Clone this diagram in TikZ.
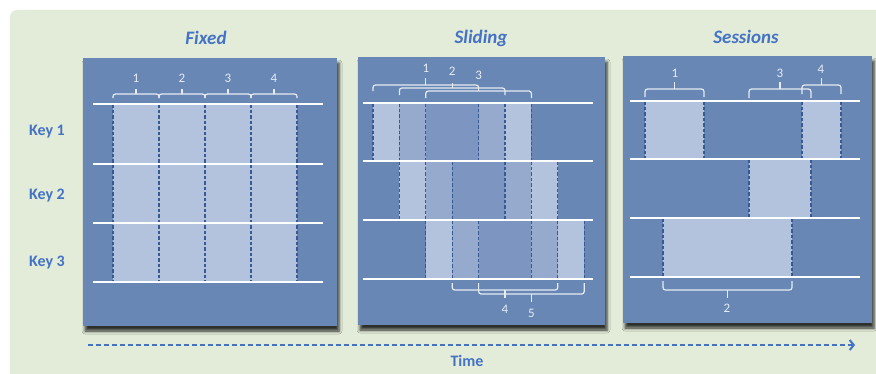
\documentclass[tikz,border=0pt]{standalone}
\usepackage{fontspec}
\setmainfont{Carlito}
\usetikzlibrary{shadows.blur,arrows.meta}

\definecolor{bgreen}{HTML}{E3ECD9}
\definecolor{panel}{HTML}{6887B5}
\definecolor{winA}{HTML}{B3C2DD}
\definecolor{winB}{HTML}{96AACD}
\definecolor{winC}{HTML}{7D96C1}
\definecolor{edgeblue}{HTML}{385A93}
\definecolor{ttl}{HTML}{4472C4}
\definecolor{numc}{HTML}{E6ECF5}

\tikzset{
  panelbox/.style={fill=panel, blur shadow={shadow xshift=2pt, shadow yshift=-5pt,
      shadow blur radius=3pt, shadow opacity=80}},
  keyline/.style={white, line width=1.6pt},
  winedge/.style={edgeblue, line width=1.2pt, dash pattern=on 3.5pt off 2pt},
  brc/.style={numc, line width=1.2pt, rounded corners=2.5pt},
  num/.style={text=numc, font=\fontsize{13}{13}\selectfont, inner sep=1pt},
  wtitle/.style={text=ttl, font=\fontsize{19}{19}\selectfont\bfseries\itshape},
  keylbl/.style={text=ttl, font=\fontsize{16}{16}\selectfont\bfseries},
}

% square brace: x from #1 to #2, ends at #3, bar at #4, tick to #5
\newcommand\wbrace[5]{%
  \draw[brc] (#1,#3) -- (#1,#4) -- (#2,#4) -- (#2,#3);
  \draw[brc] ({(#1+#2)/2},#4) -- ({(#1+#2)/2},#5);}

\begin{document}
\begin{tikzpicture}[x=1pt,y=-1pt,>=latex]

\useasboundingbox (0,0) rectangle (876,373);
\fill[white] (0,0) rectangle (876,373);
\fill[bgreen, draw=black!10, rounded corners=8pt] (10,10) rectangle (900,400);

\node[keylbl] (key1) at (47,132) {Key 1};
\node[keylbl] (key2) at (47,196) {Key 2};
\node[keylbl] (key3) at (47,263) {Key 3};

% fixed windows
\node[wtitle] (fixed) at (206,38) {Fixed};
\fill[panelbox] (83,58) rectangle (337,326);
\fill[winA] (113,104) rectangle (297,282);
\foreach \x in {113,159,205,251,297}
  \draw[winedge] (\x,104) -- (\x,282);
\foreach \y in {104,164,223,282}
  \draw[keyline] (93,\y) -- (323,\y);
\foreach \a/\b/\n in {113/159/1,159/205/2,205/251/3,251/297/4}{
  \wbrace{\a}{\b}{98}{94}{89}
  \node[num] (f\n) at ({(\a+\b)/2},78) {\n};
}

% sliding windows, step 26.4
\node[wtitle] (sliding) at (481,38) {Sliding};
\fill[panelbox] (358,57) rectangle (605,325);
\foreach \r/\ya/\yb in {0/103/161,1/161/220,2/220/279}{
  \fill[winA] ({373+26.4*\r},\ya) rectangle ({373+26.4*(\r+1)},\yb);
  \fill[winB] ({373+26.4*(\r+1)},\ya) rectangle ({373+26.4*(\r+2)},\yb);
  \fill[winC] ({373+26.4*(\r+2)},\ya) rectangle ({373+26.4*(\r+4)},\yb);
  \fill[winB] ({373+26.4*(\r+4)},\ya) rectangle ({373+26.4*(\r+5)},\yb);
  \fill[winA] ({373+26.4*(\r+5)},\ya) rectangle ({373+26.4*(\r+6)},\yb);
  \foreach \k in {0,1,2,4,5,6}
    \draw[winedge] ({373+26.4*(\r+\k)},\ya) -- ({373+26.4*(\r+\k)},\yb);
}
\foreach \y in {103,161,220,279}
  \draw[keyline] (363,\y) -- (593,\y);
\wbrace{373}{478.6}{91}{85}{78}
\wbrace{399.4}{505}{95}{88}{83}
\wbrace{425.8}{531.4}{98}{91}{86}
\node[num] (s1) at (425.8,68) {1};
\node[num] (s2) at (452.2,71) {2};
\node[num] (s3) at (478.6,75) {3};
\wbrace{452.2}{557.8}{283}{290}{298}
\wbrace{478.6}{584.2}{283}{294}{302}
\node[num] (s4) at (505,309) {4};
\node[num] (s5) at (531.4,313) {5};

% session windows
\node[wtitle] (sessions) at (746,37) {Sessions};
\fill[panelbox] (623,56) rectangle (872,323);
\fill[winA] (645,101) rectangle (704,159);
\fill[winA] (802,101) rectangle (841,159);
\fill[winA] (749,159) rectangle (811,218);
\fill[winA] (663,218) rectangle (792,277);
\foreach \x/\ya/\yb in {645/101/159,704/101/159,802/101/159,841/101/159,
    749/159/218,811/159/218,663/218/277,792/218/277}
  \draw[winedge] (\x,\ya) -- (\x,\yb);
\foreach \y in {101,159,218,277}
  \draw[keyline] (630,\y) -- (860,\y);
\wbrace{645}{704}{97}{89}{82}
\wbrace{749}{811}{98}{89}{82}
\wbrace{802}{841}{94}{85}{78}
\wbrace{663}{792}{281}{290}{298}
\node[num] (e1) at (675,73) {1};
\node[num] (e3) at (780,73) {3};
\node[num] (e4) at (821,69) {4};
\node[num] (e2) at (727,308) {2};

% time axis
\coordinate (t0) at (88,345);
\coordinate (t1) at (855,345);
\draw[ttl, line width=2pt, dash pattern=on 5pt off 3pt,
  -{Straight Barb[length=4pt,width=10pt,line width=2pt]}] (t0) -- (t1);
\node[keylbl] (time) at (467,361) {Time};

\end{tikzpicture}
\end{document}
